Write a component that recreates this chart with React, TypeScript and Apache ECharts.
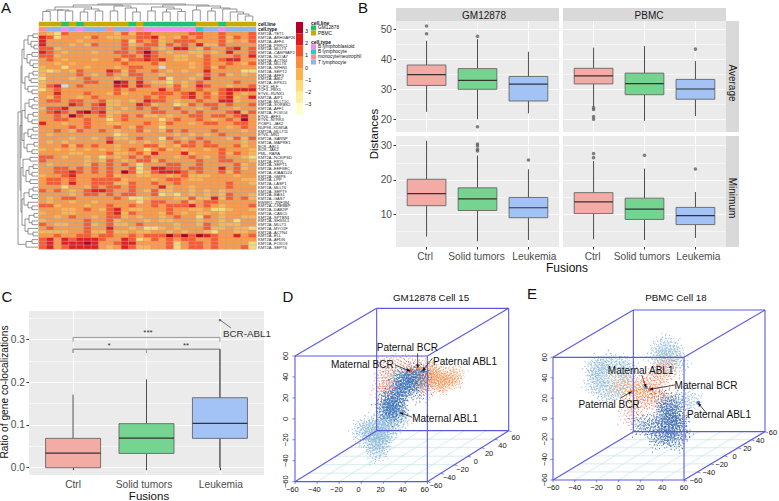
import React, { useEffect, useRef } from "react";
import * as echarts from "echarts";

const FONT = '"Liberation Sans", Arial, sans-serif';
const W = 779, H = 501;

// ---------- Panel A data ----------
const fusionNames = ["KMT2A--TET1","KMT2A--ARHGAP26","KMT2A--AFF4","KMT2A--PRRC1","KMT2A--MLLT3","KMT2A--CASP8AP2","KMT2A--NCOA7","KMT2A--ACTN4","KMT2A--MLLT6","KMT2A--SPHN1","KMT2A--SEPT2","KMT2A--AFF3","KMT2A--ABI2","KMT2A--EPS15","TCF3--HLF","TCF3--PBX1","ETV6--RUNX1","KMT2A--AIP1","KMT2A--MLLT10","KMT2A--SORBS2","KMT2A--AFF1","KMT2A--FOXO4","ETV6--AFF3","ETV6--NTRK3","PCBP1--JAK2","NUP98--KDM5A","KMT2A--MLLT11","ETV6--MN1","KMT2A--SARNP","KMT2A--MAPRE1","BCR--ABL1","BCR--JAK2","PML--RARA","KMT2A--NCKIPSD","KMT2A--FRYL","KMT2A--SEPT1","KMT2A--EEFSEC","KMT2A--KIAA1524","KMT2A--GMPS","KMT2A--LPP","KMT2A--LASP1","KMT2A--MLLT6","KMT2A--SEPT9","KMT2A--BAG1","KMT2A--GAS7","EWSR1--ZNF384","KMT2A--CREBBP","KMT2A--DAB2IP","KMT2A--CASC5","KMT2A--SPTBN1","KMT2A--SH3GL1","KMT2A--MLLT1","KMT2A--MYO1F","KMT2A--ACTN4","KMT2A--ELL","KMT2A--AFDN","KMT2A--FOXO3","KMT2A--SEPT6"];

const heatRows: number[][] = [
[0,-1,-2,1,0,0,0,0,0,0,-1,1,-1,1,1,0,0,0,0,0,1,1,0,0,1,0,0,0,1],
[2,1,-2,0,0,0,-1,1,0,-1,-1,0,0,1,1,2,-1,0,-1,1,0,1,0,0,1,-1,1,0,1],
[2,0,0,0,0,-1,0,0,0,0,0,1,-2,1,0,1,-1,0,1,1,1,0,0,0,1,-1,0,-1,1],
[2,0,0,0,-1,0,-1,1,0,0,0,1,-1,0,1,1,-1,1,0,1,0,2,-1,-1,1,0,0,0,0],
[1,1,-1,0,0,0,0,0,0,0,0,1,0,1,1,0,-1,0,2,2,0,-1,1,0,0,1,2,0,1],
[2,1,0,-1,0,0,0,-1,0,0,1,1,0,1,3,1,0,-1,0,0,-1,-1,0,-1,0,2,0,0,1],
[1,1,-1,0,0,0,0,0,0,0,0,1,1,0,2,1,0,0,-1,-1,0,-1,1,0,0,0,1,0,2],
[0,1,0,-1,0,0,0,-1,0,0,1,-1,1,1,2,1,2,0,-1,-1,0,0,1,0,1,2,2,0,0],
[0,0,-1,0,-1,0,0,0,0,0,0,1,0,0,0,1,-1,0,0,0,-1,0,1,0,0,1,0,-1,1],
[-1,0,0,-2,0,0,-1,0,0,0,-1,0,1,1,0,0,9,0,0,0,-1,0,1,-1,1,0,0,0,0],
[-1,-2,-1,0,-1,1,0,0,0,2,1,-1,1,0,0,1,0,-1,0,-1,0,0,2,0,0,0,0,-2,-2],
[-1,0,0,0,0,1,0,-1,0,1,0,-1,1,1,0,0,-1,0,0,0,0,-1,1,0,1,-1,0,-1,0],
[-2,0,0,0,-1,0,1,0,0,0,-1,0,0,1,0,0,1,-2,0,0,-1,0,2,0,0,0,0,0,0],
[-1,0,0,0,0,0,1,1,0,0,3,2,0,2,0,-1,-1,-2,0,-1,0,1,0,0,0,0,1,0,0],
[-1,1,2,9,0,1,0,0,0,0,2,2,0,2,1,0,0,-1,1,-1,0,2,1,0,0,-1,0,0,1],
[-2,0,1,0,0,0,0,0,0,0,1,0,1,0,0,0,2,0,1,0,0,1,0,0,1,2,2,2,2],
[0,0,2,0,0,0,1,0,0,-1,1,-1,0,0,0,1,1,1,0,1,2,0,1,-1,1,2,0,-1,0],
[0,-1,1,0,0,-1,0,1,0,0,0,0,0,0,1,0,1,0,0,1,2,0,1,0,1,2,-1,0,2],
[0,1,1,0,1,1,0,0,1,-1,-1,0,-1,0,2,1,1,0,-1,0,0,1,0,0,2,2,-1,0,0],
[0,0,0,0,2,1,0,1,2,-1,-1,0,0,2,1,-1,0,0,-2,-1,1,0,1,1,0,1,0,0,1],
[-1,1,1,2,0,0,0,1,1,-1,0,-1,0,1,0,1,0,0,1,0,0,-1,0,1,0,0,-1,0,0],
[0,1,2,1,0,2,3,1,2,-1,-1,0,0,0,0,1,1,0,0,1,0,1,0,0,0,1,2,-1,1],
[0,0,1,0,3,1,0,0,1,-1,0,1,0,1,-1,-1,0,-1,0,0,1,1,0,1,1,0,1,2,0],
[0,0,1,1,0,0,1,0,0,-2,0,1,0,0,0,0,-2,0,1,0,0,1,0,-1,0,1,0,3,0],
[2,0,0,-1,0,0,1,0,0,-1,-1,0,0,0,1,0,-1,1,0,0,-1,0,1,1,0,0,1,1,0],
[0,0,0,0,1,0,1,0,0,0,1,0,-1,1,0,0,-2,0,0,0,0,0,0,0,0,-1,0,1,0],
[0,0,1,0,-1,1,0,0,1,0,-1,0,0,1,-1,0,-1,1,0,1,0,0,0,1,0,0,0,-1,0],
[0,-1,0,0,0,0,0,0,0,0,-2,-1,0,0,0,0,0,0,-1,0,-1,0,-1,0,1,0,0,0,0],
[0,0,0,0,-1,0,0,-1,0,1,-1,-1,0,1,0,0,-2,1,0,-1,0,1,0,0,0,-1,1,-1,1],
[0,-1,0,-1,0,0,0,0,0,2,0,0,-1,0,-1,0,-1,0,1,0,1,0,1,0,0,0,0,-1,0],
[0,0,0,1,-1,1,0,1,0,0,-1,0,0,0,1,1,-1,0,-1,1,1,0,1,1,0,0,1,-1,0],
[-1,0,-1,0,-1,0,-1,0,-1,0,-1,0,1,0,-2,0,1,-1,0,-1,0,0,-1,0,1,0,0,0,-1],
[0,0,0,0,-1,-1,0,0,0,1,-1,-1,0,1,-1,2,0,0,0,2,-1,0,0,0,1,-1,1,0,-1],
[1,1,0,-1,0,0,-1,0,-2,0,-1,0,1,0,1,0,0,0,-1,0,1,0,-1,0,1,0,0,-1,-2],
[1,0,0,0,0,0,-1,0,-1,1,0,-1,0,1,1,-1,1,0,0,0,0,1,0,0,1,1,0,0,-1],
[0,-1,0,0,0,0,-1,1,0,1,0,1,0,-2,0,0,0,1,1,0,0,1,0,0,0,0,1,-1,0],
[0,0,1,1,0,1,0,1,0,1,0,0,1,-2,0,2,2,1,1,0,1,1,0,0,2,0,1,-1,0],
[0,0,1,1,2,1,0,1,0,1,0,3,1,-2,-1,1,2,2,2,1,0,1,0,0,1,-1,1,0,0],
[-1,0,0,1,2,0,0,0,0,1,-1,0,0,-1,-1,0,0,-1,0,1,-1,-1,-1,0,0,0,-1,0,0],
[0,1,1,0,1,0,0,1,1,1,1,-1,0,0,0,-1,0,1,1,0,-1,-1,0,0,0,0,0,-1,-1],
[0,1,1,0,2,0,0,1,1,1,-1,-1,1,0,0,1,0,0,1,0,0,0,0,0,0,1,0,0,-1],
[0,0,0,-2,0,0,-1,1,0,1,1,0,1,0,0,0,2,-1,0,0,-1,0,0,0,0,1,0,0,0],
[1,0,1,0,-1,0,1,2,2,1,0,0,1,0,-1,1,-1,-1,0,0,-1,0,-1,0,-1,0,0,0,0],
[0,0,0,0,-1,0,1,1,0,1,0,1,1,0,0,1,-2,-1,-2,0,-1,0,-1,0,-1,1,0,0,-1],
[0,-1,0,1,1,0,0,0,0,0,1,0,-2,-2,-1,0,0,0,-1,-1,1,-1,-1,2,-1,1,0,1,-1],
[0,-1,0,0,-1,0,0,-1,0,0,0,0,0,-2,0,1,1,0,0,1,-1,0,1,1,0,0,0,0,0],
[1,1,-1,0,0,0,-1,0,0,1,0,0,1,0,0,1,0,1,1,1,2,0,1,0,-1,0,0,0,1],
[0,0,0,-1,-1,0,1,0,-1,1,2,0,-1,-1,0,0,0,1,0,0,-1,-1,0,-2,-2,-1,0,0,-1],
[-1,0,0,-1,-1,0,0,0,0,1,2,-1,1,0,0,0,-1,1,0,-1,0,-1,-1,0,-1,0,0,0,0],
[0,0,-1,0,1,0,0,-1,0,1,1,-1,0,-1,0,0,-1,0,1,0,0,-2,1,0,-1,0,0,-1,-1],
[-1,0,0,0,0,0,1,0,0,1,-1,0,0,0,-1,0,-1,-1,0,0,0,-1,0,0,-1,0,-2,0,0],
[1,0,-1,-1,0,0,1,-1,0,1,-1,-1,0,1,0,0,0,0,-1,0,0,-1,1,0,-1,-1,-1,0,0],
[0,1,0,0,0,0,1,0,0,2,0,0,-1,0,-2,-2,-1,0,-1,0,0,0,1,-1,-1,0,-1,-1,-2],
[-1,-1,-1,-1,0,0,1,-1,-1,1,-1,-1,0,-1,-1,0,0,-1,0,-1,0,0,-1,-2,0,0,-1,-1,0],
[0,0,1,0,0,1,1,0,1,1,0,0,1,0,1,1,1,3,1,3,1,3,2,1,0,0,2,0,1],
[1,2,0,2,1,2,2,2,1,0,0,2,1,-2,-1,1,0,1,0,1,1,0,0,1,0,0,0,0,0],
[1,2,0,2,2,2,3,2,0,0,1,2,2,0,0,0,0,1,-2,0,1,1,0,1,0,0,0,0,-2],
[1,2,0,1,2,2,2,2,0,-1,0,2,1,-1,-1,0,0,1,-2,0,1,1,0,1,0,0,0,1,-2],
];
// 10 PBMC, 11 GM12878
const cellLine = [10,10,10,11,10,11,10,10,10,10,10,10,11,10,11,11,11,11,11,11,11,10,10,10,11,10,10,10,10];
// 12 B lymphoblastoid, 13 B lymphocyte, 14 monocyte/neutrophil, 15 T lymphocyte
const cellType = [14,15,15,12,15,12,15,15,15,14,15,15,12,14,12,12,12,12,12,12,12,13,15,15,12,15,15,15,15];

const topTree: any = [17,[16,[14,[11,[9.5,0,1],[11,2,[10,3,4]]],[12,[9,5,6],[10,7,8]]],[15,[10,9,10],[13,11,[9,12,13]]]],[16,[14,[10,14,15],[12,[9,16,17],[9.5,18,19]]],[15,[11,20,21],[13,[10,22,23],[12,24,[9,25,[7,26,[5,27,28]]]]]]]];
const G1 = [14,[10,[5,0,1],[7,2,[4,3,4]]],[11,[6,5,6],[8,7,[5,8,9]]]];
const G2 = [13,[9,[5,10,11],[7,12,13]],[10,14,[6,15,16]]];
const G3 = [13,[9,[4,17,18],[6,19,20]],[10,[5,21,22],[6,23,24]]];
const G4 = [14,[10,[5,25,26],[7,27,28]],[11,[4,29,30],[6,31,32]]];
const G5 = [15,[8,33,34],[12,[9,[5,35,36],[6,37,38]],[8,39,40]]];
const G6 = [14,[9,[5,41,42],[6,43,44]],[10,45,[6,46,47]]];
const G7 = [13,[9,[4,48,49],[6,50,51]],[10,52,[5,53,54]]];
const G8 = [12,[6,55,56],57];
const leftTree: any = [20,[17,[16,G1,G2],[18,[16,G3,G4],[17,G5,[16,G6,G7]]]],G8];

const cellLineLegend = [["GM12878","#1FC06F"],["PBMC","#C9A800"]];
const cellTypeLegend = [["B lymphoblastoid","#F48CF0"],["B lymphocyte","#1FD0D0"],["monocyte/neutrophil","#F8918A"],["T lymphocyte","#8DB4F0"]];
const colorBar = ["#B10026","#E31A1C","#FC4E2A","#FD8D3C","#FEB24C","#FED976","#FFEDA0","#FFFFCC"];
const colorTicks = ["3","2","1","0","\u22121","\u22122","\u22123"];

// ---------- Panels B, C data: [x, low whisker, Q1, median, Q3, high whisker] ----------
const categories = ["Ctrl","Solid tumors","Leukemia"];
const gmAverage = [[1,22.4,31.2,34.8,38,46.1],[2,19.9,29.9,32.9,36.8,46.6],[3,21.9,26,31.6,34.2,42.4]];
const gmAverageOut = [[1,51],[1,48.4],[2,47.6],[2,17.4]];
const pbmcAverage = [[1,24.1,31.7,34.4,36.9,43.8],[2,19.4,28.1,31.8,35.3,44.3],[3,21,26.6,30,33.2,39.3]];
const pbmcAverageOut = [[1,23.8],[1,23.2],[1,20.8],[1,19.9],[3,43.3]];
const gmMinimum = [[1,3.5,12.5,16,20.2,31.4],[2,2.1,11.1,14.5,17.7,27.1],[3,2.5,9,11.9,14.9,23.1]];
const gmMinimumOut = [[2,30.5],[2,29.9],[2,28.9],[2,28.4],[3,25.8]];
const pbmcMinimum = [[1,2.7,10.2,13.6,16.3,25.5],[2,2.5,8.5,11.5,14.7,23.3],[3,3.1,7,9.6,12,16.5]];
const pbmcMinimumOut = [[1,27.7],[1,26.5],[2,27.2],[3,23.2]];
const ratioBoxes = [[1,0,0,0.034,0.0686,0.171],[2,0,0.0335,0.069,0.103,0.2065],[3,0,0.0686,0.1037,0.1637,0.277]];
const ratioOut = [[3,0.345]];
const bracketUpper = [[1,0.2946],[1,0.3047],[3,0.3047],[3,0.2946]];
const bracketLower = [[1,0.268],[1,0.277],[3,0.277],[3,0.1637]];
const bracketMid = [[2,0.268],[2,0.277]];
const bracketLow = [[3,0.0686],[3,0]];
const boxFill = ["#F4ABA6","#75D48F","#A3C2F5"];

// ---------- Panels D, E data, read in picture-plane units ----------
const dLight = [[280,390],[300,385],[320,375],[300,400],[325,395],[345,385],[340,410],[320,420],[305,415],[335,430],[320,445],[318,458],[345,365],[365,360],[385,365],[355,345],[375,345],[345,345],[290,378],[385,225],[372,238],[330,405],[275,400],[312,392],[335,375],[350,400],[395,350],[360,375],[328,435],[310,430]];
const dBlue = [[350,330],[360,320],[345,315],[365,300],[375,305],[385,295],[370,285],[395,280],[385,270],[400,262],[410,255],[405,245],[420,240],[430,232],[445,228],[440,240],[455,222],[425,225],[395,245],[415,265],[370,325],[355,305],[445,275],[380,320],[400,235],[360,340],[390,335]];
const dOrange = [[480,232],[495,240],[510,236],[525,232],[545,228],[560,225],[512,255],[490,252],[472,222],[482,205],[470,245],[535,245],[500,225],[520,248],[485,218],[465,235],[550,235]];
const dSalmon = [[345,240],[355,262],[338,285],[352,200],[345,195],[368,262],[440,205],[432,212],[462,242],[442,252],[470,272],[390,195],[400,190],[465,205],[450,255],[418,200],[335,250],[360,225],[345,270]];
const dEnds = [[443,203],[422,212],[460,212]];
const eLight = [[240,200],[280,190],[310,200],[325,225],[230,240],[245,265],[270,280],[300,262],[222,215],[258,232],[262,190],[310,245],[236,225],[420,150],[450,155],[468,180],[440,192],[410,170],[432,142],[455,175],[515,305],[505,296],[475,300],[250,195],[295,195],[225,255],[255,275],[285,272],[320,210],[228,200],[465,160],[425,185],[445,135],[475,195]];
const eBlue = [[440,340],[470,340],[450,370],[420,380],[470,380],[440,410],[480,400],[415,420],[380,375],[450,310],[470,312],[430,300],[455,345],[435,360],[465,360],[450,390],[425,400],[470,420],[395,385],[445,325],[480,365],[460,405],[430,350],[360,378]];
const eOrange = [[340,270],[368,292],[400,280],[420,222],[440,195],[385,258],[410,300],[352,322],[322,348],[432,290],[332,258],[375,272],[400,245],[420,265],[355,300],[445,215],[390,300],[410,235],[335,340],[365,250],[430,205],[380,285]];
const eSand = [[290,258],[345,268],[310,262],[358,255],[300,250],[335,285]];
const eEnds = [[378,262],[390,268],[335,275],[535,308]];
const dCorners = { fbl:[75,545], fbr:[472,545], ftl:[75,168], ftr:[472,168], bbl:[320,392], bbr:[716,392], btl:[320,25], btr:[716,25] };
const eCorners = { fbl:[99,540], fbr:[492,540], ftl:[99,172], ftr:[492,172], bbl:[340,395], bbr:[735,395], btl:[340,30], btr:[735,30] };
const cubeTicks = ["\u221260","\u221240","\u221220","0","20","40","60"];
const dArrows = [[443,160,443,203],[375,195,420,213],[487,175,458,212],[427,352,390,338]];
const eArrows = [[365,225,378,262],[465,255,390,268],[300,295,335,275],[560,340,535,310]];
const dLabels: [string,number,number][] = [["Paternal BCR",412,143],["Maternal BCR",277,192],["Paternal ABL1",585,185],["Maternal ABL1",525,355]];
const eLabels: [string,number,number][] = [["Maternal ABL1",362,212],["Maternal BCR",558,255],["Paternal BCR",267,312],["Paternal ABL1",597,343]];

const speckle = "path://M0 0h1v1h-1z M4 1h1v1h-1z M8 0h1v1h-1z M13 2h1v1h-1z M19 0h1v1h-1z M2 4h1v1h-1z M6 4h1v1h-1z M10 3h1v1h-1z M16 5h1v1h-1z M1 8h1v1h-1z M5 7h1v1h-1z M9 7h1v1h-1z M12 6h1v1h-1z M18 8h1v1h-1z M3 11h1v1h-1z M7 10h1v1h-1z M11 10h1v1h-1z M15 9h1v1h-1z M0 13h1v1h-1z M5 14h1v1h-1z M9 13h1v1h-1z M13 12h1v1h-1z M17 12h1v1h-1z M2 17h1v1h-1z M7 16h1v1h-1z M12 15h1v1h-1z M16 16h1v1h-1z M19 14h1v1h-1z M0 19h1v1h-1z M5 19h1v1h-1z M10 18h1v1h-1z M14 19h1v1h-1z M19 19h1v1h-1z";

const txt = (text: string, x: number, y: number, o: any = {}) => ({
  type: "text", x, y, z: 100, rotation: o.rotation || 0, silent: true,
  style: { text, x: 0, y: 0, fontFamily: FONT, fontSize: o.size || 10, fontWeight: o.weight || "normal", fill: o.fill || "#111", align: o.align || "center", verticalAlign: "middle" },
});
const rect = (x: number, y: number, w: number, h: number, fill: string, z = 1) => ({ type: "rect", z, silent: true, shape: { x, y, width: w, height: h }, style: { fill } });

function dendro(t: any, pos: (i: number) => number, base: number, dir: number, vertical: boolean, out: any[]): [number, number] {
  if (typeof t === "number") return [pos(t), 0];
  const [h, a, b] = t;
  const A = dendro(a, pos, base, dir, vertical, out);
  const B = dendro(b, pos, base, dir, vertical, out);
  const pts = [[A[0], A[1]], [A[0], h], [B[0], h], [B[0], B[1]]].map(([p, v]) => (vertical ? [p, base - v] : [base - v, p]));
  out.push({ type: "polyline", z: 5, silent: true, shape: { points: pts }, style: { stroke: "#707070", lineWidth: 0.75, fill: "none" } });
  return [(A[0] + B[0]) / 2, h];
}

function boxSeries(data: number[][], xi: number, boxW: number, minorVals: number[]) {
  return {
    type: "custom", xAxisIndex: xi, yAxisIndex: xi, data, silent: true, encode: { x: 0, y: [1, 2, 3, 4, 5] }, clip: false, z: 3,
    renderItem: (p: any, api: any) => {
      const x = api.value(0);
      const cx = api.coord([x, api.value(3)])[0];
      const yy = [1, 2, 3, 4, 5].map((i) => api.coord([x, api.value(i)])[1]);
      const st = { stroke: "#4d4d4d", lineWidth: 1 };
      return { type: "group", children: [
        { type: "line", shape: { x1: cx, y1: yy[0], x2: cx, y2: yy[1] }, style: st },
        { type: "line", shape: { x1: cx, y1: yy[3], x2: cx, y2: yy[4] }, style: st },
        { type: "rect", shape: { x: cx - boxW / 2, y: yy[3], width: boxW, height: yy[1] - yy[3] }, style: { fill: boxFill[p.dataIndex], stroke: "#666", lineWidth: 0.9 } },
        { type: "line", shape: { x1: cx - boxW / 2, y1: yy[2], x2: cx + boxW / 2, y2: yy[2] }, style: { stroke: "#333", lineWidth: 1.2 } },
      ] };
    },
    markLine: { silent: true, symbol: "none", z: 1, animation: false, label: { show: false }, lineStyle: { color: "#fff", width: 0.5, type: "solid" }, data: minorVals.map((v) => ({ yAxis: v })) },
  };
}
const segSeries = (xi: number, segs: number[][], color: string, width: number, arrow = false, z = 4) => ({
  type: "custom", xAxisIndex: xi, yAxisIndex: xi, data: segs, silent: true, encode: { x: [0, 2], y: [1, 3] }, z, clip: false,
  renderItem: (p: any, api: any) => {
    const a = api.coord([api.value(0), api.value(1)]);
    const b = api.coord([api.value(2), api.value(3)]);
    const children: any[] = [{ type: "line", shape: { x1: a[0], y1: a[1], x2: b[0], y2: b[1] }, style: { stroke: color, lineWidth: width } }];
    if (arrow) {
      const ang = Math.atan2(b[1] - a[1], b[0] - a[0]), l = 3.5, s = 0.45;
      children.push({ type: "polygon", shape: { points: [b, [b[0] - l * Math.cos(ang - s), b[1] - l * Math.sin(ang - s)], [b[0] - l * Math.cos(ang + s), b[1] - l * Math.sin(ang + s)]] }, style: { fill: color } });
    }
    return { type: "group", children };
  },
});
const cloud = (xi: number, data: number[][], color: string, size: number, opacity: number, turn = 67) => ({
  type: "scatter", xAxisIndex: xi, yAxisIndex: xi, data, silent: true, symbol: speckle, symbolSize: size, z: 2,
  symbolRotate: (_: any, p: any) => (p.dataIndex * turn) % 360, itemStyle: { color, opacity },
});
const dots = (xi: number, data: number[][], colors: string[], size: number) => ({
  type: "scatter", xAxisIndex: xi, yAxisIndex: xi, data, silent: true, symbolSize: size, z: 3,
  itemStyle: { color: (p: any) => colors[p.dataIndex] },
});
const outliers = (xi: number, data: number[][], size = 3.5) => ({
  type: "scatter", xAxisIndex: xi, yAxisIndex: xi, data, silent: true, symbolSize: size, z: 4, itemStyle: { color: "#555", opacity: 0.75 },
});
const bracket = (xi: number, data: number[][], w: number) => ({
  type: "line", xAxisIndex: xi, yAxisIndex: xi, data, silent: true, symbol: "none", z: 2, lineStyle: { color: "#9a9a9a", width: w },
});

function cubeSegs(c: any) {
  const { fbl, fbr, ftl, ftr, bbl, bbr, btl, btr } = c;
  const pairs = [[fbl,fbr],[fbl,ftl],[ftl,ftr],[fbr,ftr],[bbl,bbr],[bbl,btl],[btl,btr],[bbr,btr],[fbl,bbl],[fbr,bbr],[ftl,btl],[ftr,btr]];
  return pairs.map(([a, b]) => [a[0], a[1], b[0], b[1]]);
}
const lerp = (a: number[], b: number[], t: number) => [a[0] + (b[0] - a[0]) * t, a[1] + (b[1] - a[1]) * t];
function floorSegs(c: any) {
  const out: number[][] = [];
  for (const i of [1, 2, 3, 4, 5]) {
    const t = i / 6;
    const a = lerp(c.fbl, c.fbr, t), b = lerp(c.bbl, c.bbr, t), d = lerp(c.fbl, c.bbl, t), e = lerp(c.fbr, c.bbr, t);
    out.push([a[0], a[1], b[0], b[1]], [d[0], d[1], e[0], e[1]]);
  }
  return out;
}
function tickSegs(c: any) {
  const out: number[][] = [];
  for (let i = 0; i <= 6; i++) {
    const t = i / 6;
    const a = lerp(c.fbl, c.fbr, t), b = lerp(c.fbr, c.bbr, t), z = lerp(c.fbl, c.ftl, t);
    out.push([a[0], a[1], a[0], a[1] + 7], [b[0], b[1], b[0] + 9, b[1] + 3], [z[0], z[1], z[0] - 8, z[1]]);
  }
  return out;
}
function cubeTexts(c: any, ox: number, zOff: number, xShift: number, yFrom: number[], yTo: number[]) {
  const out: any[] = [];
  const px = (u: number, v: number): [number, number] => [ox + u / 3, 300 + v / 3];
  cubeTicks.forEach((s, i) => {
    const t = i / 6;
    const a = lerp(c.fbl, c.fbr, t), b = lerp(c.fbr, c.bbr, t), z = lerp(c.fbl, c.ftl, t), off = lerp(yFrom, yTo, t);
    const A = px(a[0] + xShift, a[1] + 23), B = px(b[0] + off[0], b[1] + off[1]), Z = px(z[0] + zOff, z[1]);
    out.push(txt(s, A[0], A[1], { size: 7.5 }));
    out.push(txt(s, B[0], B[1], { size: 7.5 }));
    out.push(txt(s, Z[0], Z[1], { size: 7.5, rotation: Math.PI / 2 }));
  });
  return out;
}

function buildOption() {
  const xAxis: any[] = [], yAxis: any[] = [], grid: any[] = [], series: any[] = [];
  const hidden = { show: false };
  const addGrid = (g: any, x: any, y: any) => { grid.push({ ...g, containLabel: false }); xAxis.push({ gridIndex: grid.length - 1, ...x }); yAxis.push({ gridIndex: grid.length - 1, ...y }); return grid.length - 1; };

  // Panel A
  const colNames = cellLine.map((_, i) => String(i + 1));
  const ga = addGrid({ left: 39, top: 32, width: 217, height: 217 },
    { type: "category", data: colNames, ...hidden },
    { type: "category", data: fusionNames, inverse: true, position: "right", axisLine: hidden, axisTick: hidden, axisLabel: { fontSize: 4, fontFamily: FONT, color: "#222", interval: 0, margin: 2 } });
  const heatData: number[][] = [];
  heatRows.forEach((row, r) => row.forEach((v, c) => heatData.push([c, r, v])));
  series.push({ type: "heatmap", xAxisIndex: ga, yAxisIndex: ga, data: heatData, silent: true, itemStyle: { borderColor: "#a8a8a8", borderWidth: 0.5 } });
  const gl = addGrid({ left: 39, top: 22, width: 217, height: 4.2 }, { type: "category", data: colNames, ...hidden }, { type: "category", data: ["cell.line"], ...hidden });
  series.push({ type: "heatmap", xAxisIndex: gl, yAxisIndex: gl, silent: true, data: cellLine.map((v, i) => [i, 0, v]) });
  const gt = addGrid({ left: 39, top: 27.3, width: 217, height: 4 }, { type: "category", data: colNames, ...hidden }, { type: "category", data: ["cell.type"], ...hidden });
  series.push({ type: "heatmap", xAxisIndex: gt, yAxisIndex: gt, silent: true, data: cellType.map((v, i) => [i, 0, v]) });

  // Panel B
  const xTicks = [1, 2, 3];
  const labelStyle = { fontSize: 10.2, fontFamily: FONT, color: "#4d4d4d" };
  // the reference sets its labels a little off their ticks: [padLeft, padRight] for each category
  const xAx = (labels: boolean, pads: number[][] = [[0, 0], [0, 0], [0, 0]]) => ({ type: "value", min: 0.4, max: 3.6, axisLine: hidden,
    axisTick: { show: labels, length: 2.5, customValues: xTicks, lineStyle: { color: "#333" } },
    axisLabel: { show: labels, customValues: xTicks, ...labelStyle, margin: 4, formatter: (v: number) => `{s${v}|${categories[v - 1]}}`,
      rich: { s1: { ...labelStyle, padding: [0, pads[0][1], 0, pads[0][0]] }, s2: { ...labelStyle, padding: [0, pads[1][1], 0, pads[1][0]] }, s3: { ...labelStyle, padding: [0, pads[2][1], 0, pads[2][0]] } } },
    splitLine: { show: true, lineStyle: { color: "#fff", width: 0.9 } } });
  const yAx = (min: number, max: number, ticks: number[], labels = true, fmt?: any) => ({ type: "value", min, max, axisLine: hidden,
    axisTick: { show: labels, length: 2.5, customValues: ticks, lineStyle: { color: "#333" } },
    axisLabel: { show: labels, customValues: ticks, ...labelStyle, margin: 4, formatter: fmt },
    splitLine: { show: true, lineStyle: { color: "#fff", width: 0.9 } } });
  const panel = (left: number, top: number, w: number, h: number, x: any, y: any) =>
    addGrid({ left, top, width: w, height: h, show: true, backgroundColor: "#EBEBEB", borderWidth: 0 }, x, y);

  const avgTicks = [20, 30, 40, 50], minTicks = [10, 20, 30];
  const p1 = panel(396, 21, 163, 111, xAx(false), yAx(15.67, 52.67, avgTicks));
  series.push(boxSeries(gmAverage, p1, 38.7, [25, 35, 45]), outliers(p1, gmAverageOut));
  const p2 = panel(563, 21, 163, 111, xAx(false), yAx(15.67, 52.67, avgTicks, false));
  series.push(boxSeries(pbmcAverage, p2, 38.7, [25, 35, 45]), outliers(p2, pbmcAverageOut));
  const p3 = panel(396, 136, 163, 111, xAx(true, [[0, 3], [0, 2], [12, 0]]), yAx(0.47, 32.8, minTicks));
  series.push(boxSeries(gmMinimum, p3, 38.7, [5, 15, 25]), outliers(p3, gmMinimumOut));
  const p4 = panel(563, 136, 163, 111, xAx(true, [[0, 2], [0, 5], [6, 0]]), yAx(0.47, 32.8, minTicks, false));
  series.push(boxSeries(pbmcMinimum, p4, 38.7, [5, 15, 25]), outliers(p4, pbmcMinimumOut));

  // Panel C
  const pc = panel(29, 311, 235, 164, xAx(true, [[0, 0], [0, 5], [2, 0]]), yAx(-0.017, 0.3664, [0, 0.1, 0.2, 0.3], true, (v: number) => v.toFixed(1)));
  series.push(boxSeries(ratioBoxes, pc, 55, [0.05, 0.15, 0.25, 0.35]), outliers(pc, ratioOut, 2.5));
  series.push(bracket(pc, bracketUpper, 1), bracket(pc, bracketLower, 1.5), bracket(pc, bracketMid, 1), bracket(pc, bracketLow, 1.5));

  // Panels D, E
  const gd = addGrid({ left: 270, top: 300, width: 260, height: 200 }, { type: "value", min: 0, max: 780, ...hidden }, { type: "value", min: 0, max: 600, inverse: true, ...hidden });
  const ge = addGrid({ left: 520, top: 300, width: 259, height: 200 }, { type: "value", min: 0, max: 777, ...hidden }, { type: "value", min: 0, max: 600, inverse: true, ...hidden });
  series.push(segSeries(gd, floorSegs(dCorners), "#C3E4E8", 0.7, false, 1), segSeries(ge, floorSegs(eCorners), "#C3E4E8", 0.7, false, 1));
  series.push(segSeries(gd, cubeSegs(dCorners), "#5A5ADF", 1.1), segSeries(ge, cubeSegs(eCorners), "#5A5ADF", 1.1));
  series.push(segSeries(gd, tickSegs(dCorners), "#4040C0", 0.6), segSeries(ge, tickSegs(eCorners), "#4040C0", 0.6));
  series.push(cloud(gd, dLight, "#7FB0D4", 20, 0.9), cloud(gd, dLight, "#9CC3DF", 14, 0.9, 31), cloud(gd, dSalmon, "#E8795A", 18, 0.9), cloud(gd, dOrange, "#F39A5E", 18, 1), cloud(gd, dOrange, "#F39A5E", 13, 1, 31), cloud(gd, dBlue, "#3F74B8", 20, 1), cloud(gd, dBlue, "#3F74B8", 14, 1, 31));
  series.push(dots(gd, dEnds, ["#F08030", "#E85020", "#3060B0"], 4));
  series.push(cloud(ge, eLight, "#86B4D4", 20, 0.9), cloud(ge, eLight, "#A2C6DF", 14, 0.9, 31), cloud(ge, eOrange, "#EE8258", 19, 0.9), cloud(ge, eSand, "#F5B070", 18, 1), cloud(ge, eBlue, "#3F6DB0", 20, 1), cloud(ge, eBlue, "#3F6DB0", 14, 1, 31));
  series.push(dots(ge, eEnds, ["#3A8FC8", "#E85020", "#F09040", "#3060B0"], 4));
  series.push(segSeries(gd, dArrows, "#111", 0.7, true, 6), segSeries(ge, eArrows, "#111", 0.7, true, 6));

  // Graphics
  const els: any[] = [];
  dendro(topTree, (i) => 39 + 7.5 * (i + 0.5), 21, 1, true, els);
  dendro(leftTree, (i) => 32 + (217 / 58) * (i + 0.5), 38, 1, false, els);
  [["A", 6, 7], ["B", 363, 7], ["C", 7, 296], ["D", 288, 296], ["E", 532, 293]].forEach(([s, x, y]: any) => els.push(txt(s, x, y, { size: 15 })));
  els.push(txt("cell.line", 258, 24, { size: 4.8, weight: "bold", align: "left" }), txt("cell.type", 258, 29.2, { size: 4.8, weight: "bold", align: "left" }));
  colorBar.forEach((c, i) => els.push(rect(296, 22 + i * 11.6, 7, 11.6, c)));
  colorTicks.forEach((s, i) => els.push(txt(s, 305, 31 + i * 12.2, { size: 5.5, align: "left" })));
  els.push(txt("cell.line", 311, 22.7, { size: 5, weight: "bold", align: "left" }));
  cellLineLegend.forEach(([s, c], i) => { els.push(rect(311, 25.4 + i * 5.1, 5, 5, c), txt(s, 318, 27.9 + i * 5.1, { size: 4.8, align: "left" })); });
  els.push(txt("cell.type", 311, 41.5, { size: 5, weight: "bold", align: "left" }));
  cellTypeLegend.forEach(([s, c], i) => { els.push(rect(311, 44.2 + i * 5.1, 5, 5, c), txt(s, 318, 46.7 + i * 5.1, { size: 4.8, align: "left" })); });

  els.push(rect(396, 8, 163, 13, "#D9D9D9"), rect(563, 8, 163, 13, "#D9D9D9"), rect(726, 21, 13, 111, "#D9D9D9"), rect(726, 136, 13, 111, "#D9D9D9"));
  els.push(txt("GM12878", 484, 15, { size: 10, fill: "#1a1a1a" }), txt("PBMC", 649, 15, { size: 10, fill: "#1a1a1a" }));
  els.push(txt("Average", 732.5, 83, { size: 10, rotation: -Math.PI / 2, fill: "#1a1a1a" }), txt("Minimum", 732.5, 198, { size: 10, rotation: -Math.PI / 2, fill: "#1a1a1a" }));
  els.push(txt("Distances", 374, 134, { size: 11.5, rotation: Math.PI / 2 }), txt("Fusions", 567, 268, { size: 12 }));
  els.push(txt("Ratio of gene co-localizations", 4.5, 392, { size: 10.2, rotation: Math.PI / 2 }), txt("Fusions", 149, 496, { size: 11.5 }));
  els.push(txt("***", 148, 332.5, { size: 8, fill: "#333" }), txt("*", 109, 345, { size: 8, fill: "#333" }), txt("**", 186, 345, { size: 8, fill: "#333" }));
  els.push(txt("BCR-ABL1", 223, 333, { size: 9.8, align: "left", fill: "#333" }));
  els.push({ type: "line", z: 100, silent: true, shape: { x1: 219.5, y1: 319.5, x2: 231, y2: 328 }, style: { stroke: "#555", lineWidth: 0.8 } });
  els.push(txt("GM12878 Cell 15", 431, 297, { size: 9.8 }), txt("PBMC Cell 18", 676, 297, { size: 9.8 }));
  dLabels.forEach(([s, u, v]) => els.push(txt(s, 270 + u / 3, 300 + v / 3, { size: 10 })));
  eLabels.forEach(([s, u, v]) => els.push(txt(s, 520 + u / 3, 300 + v / 3, { size: 10 })));
  els.push(...cubeTexts(dCorners, 270, -30, -8, [26, 10], [21, 20]), ...cubeTexts(eCorners, 520, -27, 0, [36, 1], [24, 3]));

  return {
    animation: false, backgroundColor: "#fff", grid, xAxis, yAxis, series,
    visualMap: [{ type: "piecewise", show: false, seriesIndex: [0, 1, 2], dimension: 2, pieces: [
      { value: -3, color: "#FFF2B0" }, { value: -2, color: "#FDD975" }, { value: -1, color: "#FDB453" }, { value: 0, color: "#FC9A46" },
      { value: 1, color: "#FB5A2E" }, { value: 2, color: "#E0201F" }, { value: 3, color: "#AF0026" }, { value: 9, color: "#D8D8D8" },
      { value: 10, color: "#C9A800" }, { value: 11, color: "#1FC06F" }, { value: 12, color: "#F48CF0" }, { value: 13, color: "#1FD0D0" }, { value: 14, color: "#F8918A" }, { value: 15, color: "#8DB4F0" },
    ] }],
    graphic: { elements: els },
  };
}

export default function App() {
  const ref = useRef<HTMLDivElement>(null);
  useEffect(() => {
    document.body.style.margin = "0";
    const chart = echarts.init(ref.current!, undefined, { renderer: "svg", width: W, height: H });
    chart.setOption(buildOption() as any);
    return () => chart.dispose();
  }, []);
  return <div ref={ref} style={{ width: W, height: H }} />;
}
